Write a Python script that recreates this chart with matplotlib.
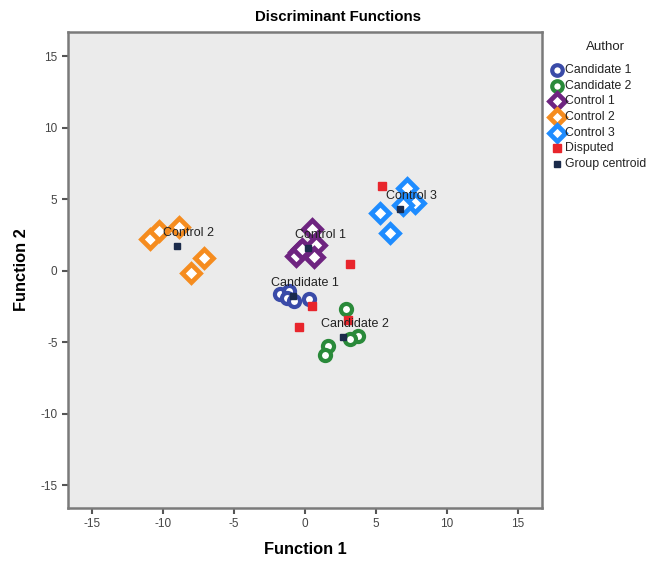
import matplotlib
matplotlib.use("Agg")
import matplotlib.pyplot as plt
from matplotlib.lines import Line2D

plt.rcParams['font.family'] = ['Liberation Sans', 'DejaVu Sans']
plt.rcParams['axes.unicode_minus'] = False

# ---- data ----
cand1_x = [-1.75, -1.1, -1.3, -0.75, 0.3]
cand1_y = [-1.6, -1.4, -1.9, -2.1, -2.0]
cand2_x = [2.92, 3.71, 3.2, 1.6, 1.44]
cand2_y = [-2.66, -4.59, -4.78, -5.29, -5.87]
ctrl1_x = [0.5, 0.75, -0.45, 0.6, -0.65, -0.2]
ctrl1_y = [2.9, 1.8, 1.3, 0.95, 1.05, 1.5]
ctrl2_x = [-10.9, -10.3, -8.9, -7.1, -8.0]
ctrl2_y = [2.24, 2.8, 3.05, 0.9, -0.16]
ctrl3_x = [7.18, 7.77, 5.26, 6.01, 6.9]
ctrl3_y = [5.78, 4.73, 4.03, 2.63, 4.6]
disp_x = [3.2, 0.5, 3.0, -0.44, 5.42]
disp_y = [0.47, -2.5, -3.43, -3.96, 5.9]
centroid_names = ["Candidate 1", "Candidate 2", "Control 1", "Control 2", "Control 3"]
centroid_x = [-0.83, 2.66, 0.22, -9.03, 6.66]
centroid_y = [-1.80, -4.66, 1.59, 1.70, 4.34]
ticks = [-15, -10, -5, 0, 5, 10, 15]
legend_labels = ['Candidate 1', 'Candidate 2', 'Control 1', 'Control 2', 'Control 3', 'Disputed', 'Group centroid']

col_c1 = '#3A4BA8'
col_c2 = '#2A8A3A'
col_k1 = '#6E2480'
col_k2 = '#F58C1F'
col_k3 = '#1E8CFF'
col_d = '#E8252C'
col_g = '#1B2B4B'

fig = plt.figure(figsize=(6.49, 5.61), dpi=100)
ax = fig.add_axes([68/649, 1-508/561, (542-68)/649, (508-32)/561])
ax.set_facecolor('#EBEBEB')

circ = dict(marker='o', ms=8.0, mew=3.0, mfc='white', linestyle='none')
diam = dict(marker='D', ms=9.0, mew=3.4, mfc='white', linestyle='none')
styles = [
    dict(mec=col_c1, **circ),
    dict(mec=col_c2, **circ),
    dict(mec=col_k1, **diam),
    dict(mec=col_k2, **diam),
    dict(mec=col_k3, **diam),
    dict(marker='s', ms=5.4, color=col_d, linestyle='none'),
    dict(marker='s', ms=4.8, color=col_g, linestyle='none'),
]
series = [(cand1_x, cand1_y), (cand2_x, cand2_y), (ctrl1_x, ctrl1_y), (ctrl2_x, ctrl2_y),
          (ctrl3_x, ctrl3_y), (disp_x, disp_y), (centroid_x, centroid_y)]
for (xs, ys), st in zip(series, styles):
    ax.plot(xs, ys, **st)
for n, x, y in zip(centroid_names, centroid_x, centroid_y):
    ax.annotate(n, (x, y), xytext=(12, 13), textcoords='offset pixels',
                ha='center', va='center', fontsize=9, color='#222222')

ax.set_xlim(-16.7, 16.7)
ax.set_ylim(-16.6, 16.7)
ax.set_xticks(ticks)
ax.set_yticks(ticks)
ax.tick_params(direction='out', length=4, width=1.5, color='#555555', labelsize=8.5, labelcolor='#444444')
for s in ax.spines.values():
    s.set_color('#7A7A7A')
    s.set_linewidth(1.8)

fig.text(338/649, 1-17/561, 'Discriminant Functions', ha='center', va='center', fontsize=10.8, fontweight='bold')
fig.text(305/649, 1-550/561, 'Function 1', ha='center', va='center', fontsize=11.8, fontweight='bold')
fig.text(22/649, 1-270/561, 'Function 2', ha='center', va='center', fontsize=11.8, fontweight='bold', rotation=90)

# legend
fig.text(605/649, 1-47/561, 'Author', ha='center', va='center', fontsize=9.5, color='#222222')
for i, (lab, st) in enumerate(zip(legend_labels, styles)):
    y = 1 - (70 + i*15.7)/561
    st2 = dict(st)
    if 'ms' in st2:
        st2['ms'] = st2['ms'] * 0.95
    fig.add_artist(Line2D([557/649], [y], transform=fig.transFigure, **st2))
    fig.text(565/649, y, lab, ha='left', va='center', fontsize=8.8, color='#222222')

fig.savefig('out.png', dpi=100, facecolor='white')
